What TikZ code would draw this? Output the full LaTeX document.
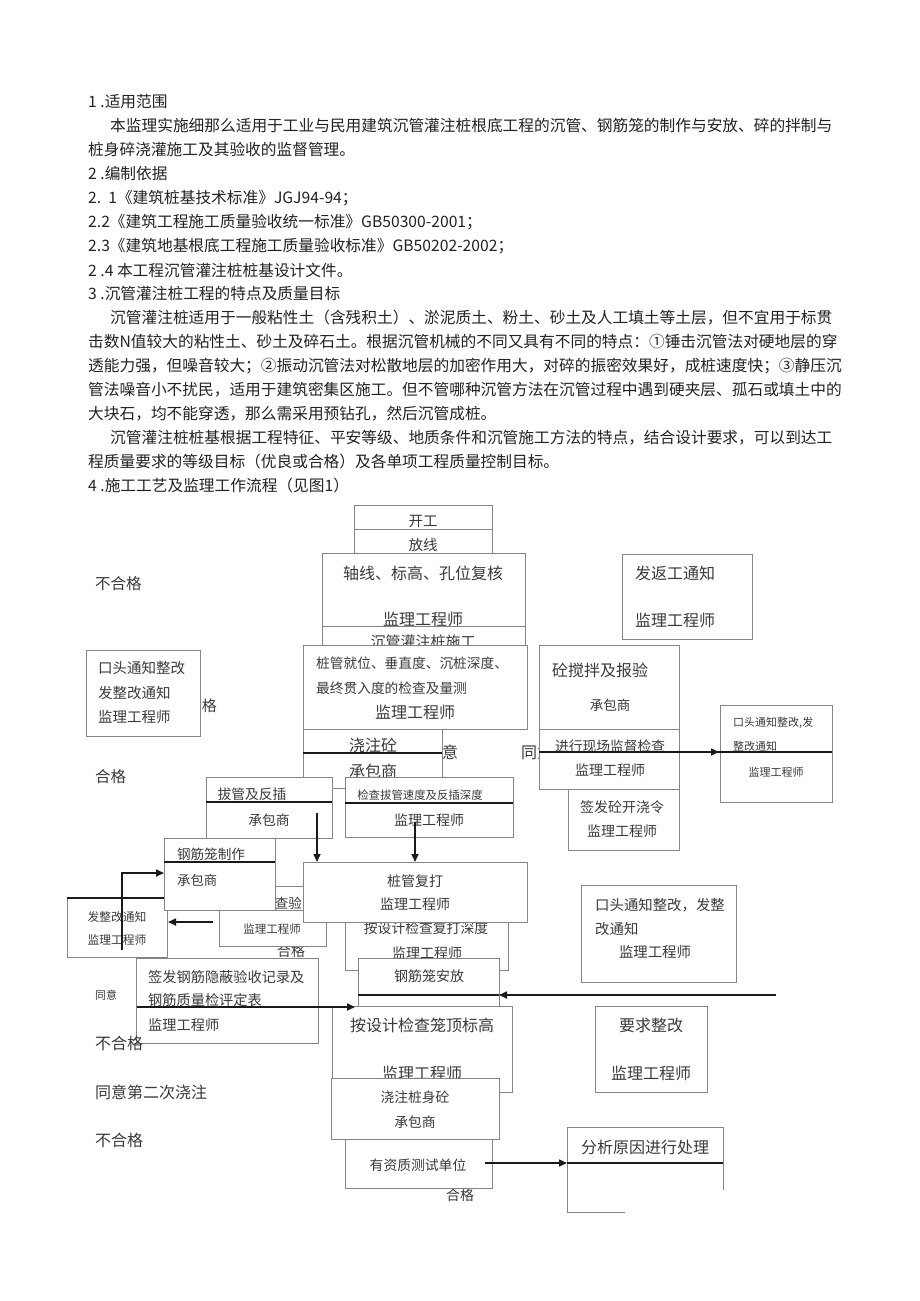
\documentclass[tikz,border=0pt]{standalone}
\usepackage{fontspec}
\setmainfont{Noto Sans CJK SC}
\usetikzlibrary{arrows.meta,fit}
\newcommand\fsz[1]{\fontsize{#1}{#1}\selectfont}
\definecolor{boxc}{HTML}{858585}
\definecolor{txt}{HTML}{222222}
\definecolor{ftxt}{HTML}{3a3a3a}
\definecolor{arrc}{HTML}{1a1a1a}
\tikzset{
 box/.style={draw=boxc, line width=1pt, fill=white, inner sep=0pt},
 bt/.style={inner sep=0pt, text=ftxt},
 lbl/.style={inner sep=0pt, text=ftxt, anchor=west},
 body/.style={inner sep=0pt, anchor=west, text=txt, font=\fsz{15.7}},
 dline/.style={draw=arrc, line width=1.2pt},
 gline/.style={draw=boxc, line width=1pt},
 arr/.style={draw=arrc, line width=1.6pt, -{Triangle[length=8pt,width=7pt]}},
}
\begin{document}
\begin{tikzpicture}[x=1pt,y=-1pt]
\useasboundingbox[fill=white] (0,0) rectangle (920,1301);

% ---------------- body text ----------------
\node[body] (l1) at (88,102) {1 .适用范围};
\node[body] (l2) at (110,126) {本监理实施细那么适用于工业与民用建筑沉管灌注桩根底工程的沉管、钢筋笼的制作与安放、碎的拌制与};
\node[body] (l3) at (88,150) {桩身碎浇灌施工及其验收的监督管理。};
\node[body] (l4) at (88,174) {2 .编制依据};
\node[body] (l5) at (88,198) {2.\ \ 1《建筑桩基技术标准》JGJ94-94；};
\node[body] (l6) at (88,222) {2.2《建筑工程施工质量验收统一标准》GB50300-2001；};
\node[body] (l7) at (88,246) {2.3《建筑地基根底工程施工质量验收标准》GB50202-2002；};
\node[body] (l8) at (88,270) {2 .4 本工程沉管灌注桩桩基设计文件。};
\node[body] (l9) at (88,294) {3 .沉管灌注桩工程的特点及质量目标};
\node[body] (l10) at (110,318) {沉管灌注桩适用于一般粘性土（含残积土）、淤泥质土、粉土、砂土及人工填土等土层，但不宜用于标贯};
\node[body] (l11) at (88,342) {击数N值较大的粘性土、砂土及碎石土。根据沉管机械的不同又具有不同的特点：①锤击沉管法对硬地层的穿};
\node[body] (l12) at (88,366) {透能力强，但噪音较大；②振动沉管法对松散地层的加密作用大，对碎的振密效果好，成桩速度快；③静压沉};
\node[body] (l13) at (88,390) {管法噪音小不扰民，适用于建筑密集区施工。但不管哪种沉管方法在沉管过程中遇到硬夹层、孤石或填土中的};
\node[body] (l14) at (88,414) {大块石，均不能穿透，那么需采用预钻孔，然后沉管成桩。};
\node[body] (l15) at (110,438) {沉管灌注桩桩基根据工程特征、平安等级、地质条件和沉管施工方法的特点，结合设计要求，可以到达工};
\node[body] (l16) at (88,462) {程质量要求的等级目标（优良或合格）及各单项工程质量控制目标。};
\node[body] (l17) at (88,486) {4 .施工工艺及监理工作流程（见图1）};

% ---------------- top column ----------------
\node[box,fit={(354,505)(492,529)}] (kg) {};
\node[bt,font=\fsz{14.5}] (kgt) at (423,521) {开工};
\node[box,fit={(354,529)(492,553)}] (fx) {};
\node[bt,font=\fsz{14.5}] (fxt) at (423,545) {放线};
\node[box,fit={(322,553)(525,626)}] (zx) {};
\node[bt,font=\fsz{16}] (zxt) at (423,573) {轴线、标高、孔位复核};
\node[bt,font=\fsz{16}] (zxe) at (423,619) {监理工程师};
\node[box,fit={(322,626)(525,660)}] (cg) {};
\node[bt,font=\fsz{15}] (cgt) at (423,642) {沉管灌注桩施工};
\node[box,fit={(303,645)(527,729)}] (zg) {};
\node[bt,font=\fsz{13.7},anchor=west] (zgt1) at (316,663) {桩管就位、垂直度、沉桩深度、};
\node[bt,font=\fsz{13.7},anchor=west] (zgt2) at (316,688) {最终贯入度的检查及量测};
\node[bt,font=\fsz{16}] (zge) at (415,712) {监理工程师};

% hidden labels
\node[lbl,font=\fsz{16}] (ty1) at (426,752) {同意};
\node[lbl,font=\fsz{16}] (ty2) at (521,752) {同意};

\node[box,fit={(303,729)(442,788)}] (jz) {};
\node[bt,font=\fsz{16}] (jzt) at (373,745) {浇注砼};
\node[bt,font=\fsz{16}] (jzc) at (373,771) {承包商};
\draw[dline] (303,753) -- (442,753);

\node[box,fit={(206,777)(332,838)}] (bg) {};
\node[bt,font=\fsz{13.8}] (bgt) at (252,794) {拔管及反插};
\node[bt,font=\fsz{13.8}] (bgc) at (269,820) {承包商};
\draw[dline] (206,802) -- (332,802);

\node[box,fit={(345,777)(513,837)}] (jc) {};
\node[bt,font=\fsz{11.4}] (jct) at (420,795) {检查拔管速度及反插深度};
\node[bt,font=\fsz{14}] (jce) at (429,820) {监理工程师};
\draw[dline] (345,803) -- (513,803);

% ---------------- left labels ----------------
\node[lbl,font=\fsz{15.5}] (bhg1) at (95,584) {不合格};
\node[lbl,font=\fsz{15.5}] (hg1) at (95,777) {合格};
\node[bt,font=\fsz{15},anchor=east] (bhg0) at (217,706) {不合格};
\node[box,fit={(86,650)(200,736)}] (kt1) {};
\node[bt,font=\fsz{14.5},anchor=west] (kt1a) at (98,668) {口头通知整改};
\node[bt,font=\fsz{14.5},anchor=west] (kt1b) at (98,693) {发整改通知};
\node[bt,font=\fsz{14.5},anchor=west] (kt1c) at (98,717) {监理工程师};

% ---------------- right column ----------------
\node[box,fit={(622,554)(752,639)}] (fg) {};
\node[bt,font=\fsz{16},anchor=west] (fgt) at (635,573) {发返工通知};
\node[bt,font=\fsz{16},anchor=west] (fge) at (635,620) {监理工程师};

\node[box,fit={(539,645)(679,729)}] (hn) {};
\node[bt,font=\fsz{16},anchor=west] (hnt) at (552,670) {砼搅拌及报验};
\node[bt,font=\fsz{13.5}] (hnc) at (610,705) {承包商};
\node[box,fit={(539,729)(679,789)}] (xc) {};
\node[bt,font=\fsz{13.75}] (xct) at (610,746) {进行现场监督检查};
\node[bt,font=\fsz{14}] (xce) at (610,770) {监理工程师};
\node[box,fit={(568,789)(679,850)}] (qk) {};
\node[bt,font=\fsz{14}] (qkt) at (622,807) {签发砼开浇令};
\node[bt,font=\fsz{14}] (qke) at (622,831) {监理工程师};

\node[box,fit={(720,705)(832,802)}] (kt2) {};
\node[bt,font=\fsz{11},anchor=west] (kt2a) at (733,723) {口头通知整改,发};
\node[bt,font=\fsz{11},anchor=west] (kt2b) at (733,746) {整改通知};
\node[bt,font=\fsz{11}] (kt2c) at (776,772) {监理工程师};

\coordinate (a1s) at (539,752);
\coordinate (a1t) at (719,752);
\coordinate (a1e) at (832,752);
\draw[dline] (a1s) -- (a1e);
\draw[arr] (a1s) -- (a1t);

% ---------------- middle-lower cluster ----------------
\node[bt,font=\fsz{14}] (hg2) at (291,951) {合格};
\node[box,fit={(219,886)(326,946)}] (cy) {};
\draw[gline] (219,910) -- (326,910);
\node[bt,font=\fsz{13.5},anchor=east] (cyt) at (302,903) {查验};
\node[bt,font=\fsz{11.5}] (cye) at (272,929) {监理工程师};

\node[box,fit={(67,898)(167,957)}] (fz) {};
\draw[dline] (67,898) -- (164,898);
\node[bt,font=\fsz{11.8}] (fzt) at (117,917) {发整改通知};
\node[bt,font=\fsz{11.8}] (fze) at (117,940) {监理工程师};

\node[box,fit={(164,838)(275,910)}] (gz) {};
\node[bt,font=\fsz{13.6}] (gzt) at (211,854) {钢筋笼制作};
\draw[dline] (164,862) -- (275,862);
\node[bt,font=\fsz{13.3},anchor=west] (gzc) at (177,880) {承包商};

\node[box,fit={(345,915)(508,970)}] (as1) {};
\node[bt,font=\fsz{13.8}] (as1t) at (426,928) {按设计检查复打深度};
\node[bt,font=\fsz{14}] (as1e) at (427,953) {监理工程师};

\node[box,fit={(303,862)(527,922)}] (fd) {};
\node[bt,font=\fsz{14}] (fdt) at (415,881) {桩管复打};
\node[bt,font=\fsz{14}] (fde) at (415,904) {监理工程师};

\coordinate (a2s) at (317,813);
\coordinate (a2t) at (317,862);
\draw[arr] (a2s) -- (a2t);
\coordinate (a3s) at (415,822);
\coordinate (a3t) at (415,862);
\draw[arr] (a3s) -- (a3t);

\coordinate (a4s) at (122,950);
\coordinate (a4t) at (164,873);
\draw[arr] (a4s) |- (a4t);
\coordinate (a5s) at (213,922);
\coordinate (a5t) at (168,922);
\draw[arr] (a5s) -- (a5t);

\node[box,fit={(358,958)(499,1006)}] (af) {};
\node[bt,font=\fsz{14}] (aft) at (429,976) {钢筋笼安放};
\draw[dline] (358,995) -- (499,995);

\node[box,fit={(581,885)(736,982)}] (kt3) {};
\node[bt,font=\fsz{14.4},anchor=west] (kt3a) at (595,905) {口头通知整改，发整};
\node[bt,font=\fsz{14.4},anchor=west] (kt3b) at (595,929) {改通知};
\node[bt,font=\fsz{14.4}] (kt3c) at (655,952) {监理工程师};

\coordinate (a6s) at (776,995);
\coordinate (a6t) at (499,995);
\draw[arr] (a6s) -- (a6t);

\node[box,fit={(136,958)(318,1043)}] (qg) {};
\node[bt,font=\fsz{14.2},anchor=west] (qga) at (148,977) {签发钢筋隐蔽验收记录及};
\node[bt,font=\fsz{14.2},anchor=west] (qgb) at (148,1000) {钢筋质量检评定表};
\node[bt,font=\fsz{14.2},anchor=west] (qgc) at (148,1025) {监理工程师};
\node[lbl,font=\fsz{11}] (ty3) at (95,995) {同意};

\node[box,fit={(332,1006)(512,1092)}] (as2) {};
\node[bt,font=\fsz{16}] (as2t) at (422,1025) {按设计检查笼顶标高};
\node[bt,font=\fsz{16}] (as2e) at (422,1073) {监理工程师};

\coordinate (a7s) at (137,1007);
\coordinate (a7t) at (355,1007);
\draw[arr] (a7s) -- (a7t);

\node[box,fit={(595,1006)(707,1092)}] (yq) {};
\node[bt,font=\fsz{16}] (yqt) at (651,1025) {要求整改};
\node[bt,font=\fsz{16}] (yqe) at (651,1073) {监理工程师};

\node[lbl,font=\fsz{16}] (bhg2) at (95,1043) {不合格};
\node[lbl,font=\fsz{16}] (tyd) at (95,1092) {同意第二次浇注};
\node[lbl,font=\fsz{16}] (bhg3) at (95,1140) {不合格};

\node[bt,font=\fsz{14}] (hg3) at (460,1195) {合格};
\node[box,fit={(345,1120)(492,1188)}] (yz) {};
\node[bt,font=\fsz{13.8}] (yzt) at (418,1165) {有资质测试单位};

\node[box,fit={(331,1078)(499,1139)}] (jzs) {};
\node[bt,font=\fsz{13.8}] (jzst) at (415,1097) {浇注桩身砼};
\node[bt,font=\fsz{13.8}] (jzsc) at (415,1122) {承包商};

\draw[boxc, line width=1pt, fill=white] (625,1212) -- (567,1212) -- (567,1127) -- (723,1127) -- (723,1190);
\node[bt,font=\fsz{16}] (fxt2) at (645,1147) {分析原因进行处理};
\coordinate (a8s) at (485,1163);
\coordinate (a8t) at (567,1163);
\coordinate (a8e) at (723,1163);
\draw[dline] (a8t) -- (a8e);
\draw[arr] (a8s) -- (a8t);
\end{tikzpicture}
\end{document}
